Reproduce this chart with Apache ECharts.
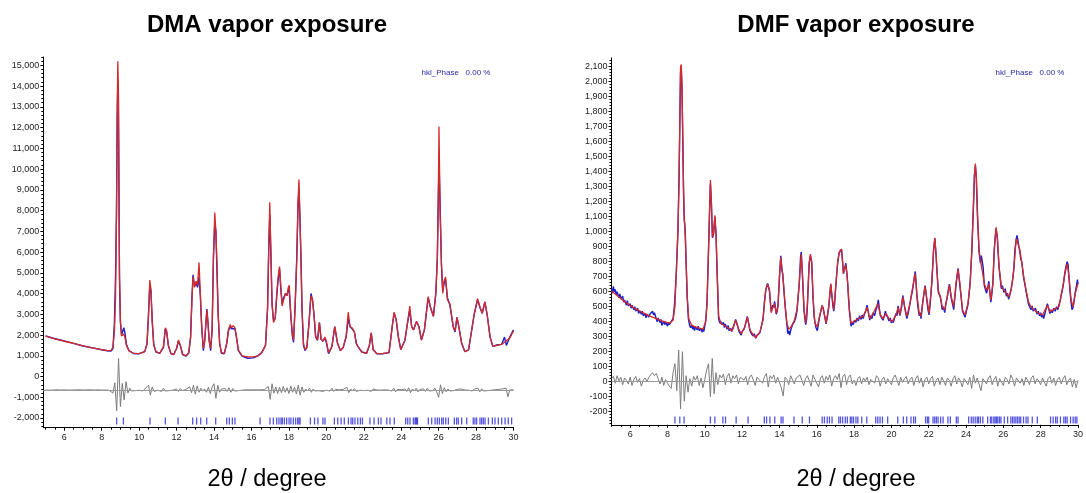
<!DOCTYPE html>
<html>
<head>
<meta charset="utf-8">
<title>DMA / DMF vapor exposure</title>
<script src="https://cdn.jsdelivr.net/npm/echarts@6/dist/echarts.min.js"></script>
<style>
html, body { margin: 0; padding: 0; background: #fff; }
#chart { width: 1086px; height: 493px; }
</style>
</head>
<body>
<div id="chart"></div>
<script>
/* ============================= data ============================= */

// x tick labels (2theta, degree), same for both panels
var xTicks = [6, 8, 10, 12, 14, 16, 18, 20, 22, 24, 26, 28, 30];

// ---- DMA vapor exposure ----
var dmaYTicks = [-2000, -1000, 0, 1000, 2000, 3000, 4000, 5000, 6000, 7000, 8000, 9000, 10000, 11000, 12000, 13000, 14000, 15000];

var dmaX = [5.0,5.5,6.0,6.5,7.0,7.5,8.0,8.3,8.5,8.6,
	8.68,8.74,8.79,8.83,8.86,8.89,8.92,8.95,9.0,9.06,
	9.12,9.18,9.24,9.32,9.45,9.7,10.0,10.3,10.42,10.5,
	10.57,10.63,10.7,10.78,10.9,11.1,11.3,11.4,11.47,11.56,
	11.7,11.85,12.0,12.1,12.2,12.32,12.5,12.65,12.75,12.82,
	12.88,12.96,13.04,13.12,13.2,13.27,13.34,13.43,13.5,13.56,
	13.62,13.68,13.74,13.82,13.9,13.97,14.04,14.1,14.16,14.22,
	14.3,14.4,14.55,14.68,14.77,14.86,14.94,15.02,15.12,15.2,
	15.3,15.5,15.8,16.1,16.35,16.55,16.75,16.86,16.93,16.98,
	17.04,17.1,17.18,17.27,17.36,17.44,17.5,17.57,17.64,17.72,
	17.82,17.9,17.97,18.02,18.1,18.18,18.25,18.34,18.42,18.49,
	18.54,18.6,18.65,18.7,18.78,18.86,18.96,19.08,19.18,19.26,
	19.34,19.43,19.53,19.63,19.72,19.82,19.92,20.0,20.12,20.3,
	20.45,20.6,20.75,20.9,21.06,21.17,21.27,21.38,21.5,21.6,
	21.72,21.9,22.15,22.3,22.4,22.5,22.7,23.0,23.35,23.52,
	23.62,23.73,23.85,23.98,24.2,24.34,24.46,24.56,24.66,24.82,
	24.95,25.08,25.24,25.44,25.56,25.72,25.85,25.93,25.98,26.02,
	26.08,26.15,26.22,26.29,26.37,26.47,26.6,26.78,26.88,26.98,
	27.08,27.23,27.4,27.6,27.9,28.08,28.22,28.33,28.47,28.59,
	28.75,28.9,29.1,29.37,29.52,29.62,29.8,30.0];

var dmaCalc = [1950,1820,1700,1600,1480,1380,1300,1250,1260,1400,
	2200,3800,7800,13000,15200,14000,9300,5000,2700,1950,
	1900,2050,1900,1500,1250,1120,1100,1200,1600,2900,
	4650,4200,2600,1500,1200,1120,1450,2350,2200,1500,
	1100,1060,1350,1760,1500,1080,1000,1150,1900,3700,
	4800,4300,4600,4400,5500,4000,2500,1350,1700,2500,
	3200,2500,1700,1350,2200,5700,7900,7000,5400,3000,
	1600,1150,1120,1600,2250,2500,2350,2450,2350,1900,
	1280,1000,950,950,1000,1150,1500,3200,6500,8400,
	6000,3500,2600,2800,4100,4900,5300,4300,3400,3700,
	4000,3900,4300,4400,3000,2100,1750,3500,5600,8500,
	9500,7200,5600,3300,1600,1300,1400,2600,3900,3700,
	3000,1950,1750,2600,1800,1700,1900,1700,1150,1450,
	2400,1600,1250,1400,1950,3100,2400,2350,2150,1600,
	1400,1180,1120,1500,2100,1300,1100,1100,1150,2400,
	3100,2750,1900,1300,1750,2600,3400,2400,2250,2650,
	2400,1760,2250,3850,3350,2900,4000,5600,8500,12050,
	7900,5450,4000,4600,4800,3700,3500,2400,2200,2850,
	2400,1600,1200,1280,3000,3750,3300,3050,3600,3000,
	1900,1450,1500,1550,1650,1600,1850,2200];

var dmaObs = [1960,1820,1710,1600,1470,1380,1290,1240,1230,1350,
	2600,4900,7900,12500,14100,13600,9300,4700,2600,2000,
	2000,2350,2100,1550,1250,1110,1100,1200,1550,3000,
	4400,4100,2700,1550,1180,1120,1400,2300,2150,1500,
	1100,1060,1350,1700,1500,1060,980,1130,1900,3800,
	4900,4350,4500,4300,4800,3900,2400,1250,1700,2500,
	3250,2600,1800,1250,2300,5800,7400,7000,5000,3050,
	1600,1120,1100,1600,2200,2400,2300,2350,2300,1900,
	1250,980,880,900,1000,1150,1500,3300,6400,7800,
	5800,3500,2700,2800,4000,4800,5200,4200,3500,3800,
	4000,3900,4200,4100,3000,2000,1650,3600,5700,8300,
	9000,7400,5500,3300,1500,1250,1400,2650,4000,3700,
	3000,1900,1750,2600,1800,1700,1850,1650,1100,1450,
	2400,1600,1250,1400,1900,2800,2400,2300,2150,1600,
	1400,1180,1120,1500,2100,1300,1100,1100,1150,2400,
	3050,2750,1900,1300,1750,2600,3200,2400,2250,2650,
	2400,1760,2250,3800,3350,2900,4000,5700,8500,10300,
	8200,5400,4100,4500,4700,3800,3450,2400,2150,2850,
	2400,1600,1200,1280,3000,3700,3300,3050,3600,3000,
	1900,1450,1520,1550,1900,1500,1900,2250];

// difference curve, sampled every 0.1 degree from 5.0 (offset baseline -650)
var dmaDiffStart = 5.0, dmaDiffStep = 0.1, dmaDiffZero = -650;
var dmaDiff = [
	-650,-640,-660,-645,-655,-650,-640,-655,-650,-660,
	-645,-650,-655,-640,-650,-660,-645,-650,-640,-655,
	-650,-660,-645,-650,-640,-655,-650,-660,-645,-650,
	-655,-640,-650,-660,-670,-720,-800,-300,-1650,870,
	-1450,-330,-1130,-250,-800,-560,-700,-620,-680,-640,
	-660,-620,-700,-600,-680,-420,-900,-500,-720,-640,
	-660,-600,-720,-560,-700,-640,-680,-620,-660,-640,
	-600,-720,-580,-680,-640,-620,-680,-500,-780,-420,
	-850,-450,-760,-560,-700,-600,-760,-520,-820,-500,
	-350,-1050,-420,-760,-600,-660,-580,-720,-540,-760,
	-580,-700,-620,-680,-640,-660,-650,-640,-655,-645,
	-650,-640,-660,-645,-655,-640,-660,-630,-700,-480,
	-1100,-350,-800,-500,-820,-520,-780,-480,-760,-540,
	-820,-460,-760,-520,-840,-420,-900,-500,-760,-600,
	-700,-560,-760,-600,-700,-620,-680,-600,-720,-640,
	-660,-600,-700,-560,-720,-620,-680,-640,-660,-620,
	-700,-520,-780,-600,-700,-580,-720,-640,-660,-620,
	-680,-640,-660,-620,-720,-600,-680,-650,-640,-660,
	-650,-640,-660,-650,-620,-700,-560,-740,-620,-680,
	-640,-660,-600,-720,-540,-780,-600,-700,-560,-740,
	-620,-680,-600,-720,-560,-700,-620,-680,-560,-740,
	-1000,-400,-820,-540,-740,-600,-700,-620,-680,-640,
	-620,-700,-600,-680,-650,-640,-660,-620,-700,-600,
	-680,-560,-740,-600,-700,-620,-680,-640,-660,-650,
	-640,-660,-620,-700,-600,-680,-560,-980,-650,-600,
	-640];

// hkl reflection positions
var dmaHkl = [8.80,9.16,10.58,11.40,12.08,12.86,13.07,13.29,13.61,14.09,14.68,14.82,14.98,15.12,16.46,16.99,17.17,17.35,17.47,17.58,17.65,17.76,17.88,18.01,18.11,18.24,18.36,18.47,18.54,18.60,
	19.15,19.37,19.55,19.82,19.93,20.43,20.61,20.79,20.96,21.18,21.32,21.41,21.53,21.68,21.82,21.93,22.33,22.55,22.78,22.92,23.23,23.40,23.63,24.24,24.35,24.47,24.65,24.74,24.78,24.83,24.87,
	25.45,25.63,25.81,25.93,26.04,26.16,26.25,26.38,26.52,26.84,26.96,27.05,27.23,27.5,27.85,27.94,28.03,28.21,28.3,28.39,28.48,28.66,28.87,29.01,29.19,29.37,29.55,29.72,29.9];

// ---- DMF vapor exposure ----
var dmfYTicks = [-200, -100, 0, 100, 200, 300, 400, 500, 600, 700, 800, 900, 1000, 1100, 1200, 1300, 1400, 1500, 1600, 1700, 1800, 1900, 2000, 2100];

var dmfCalcX = [5.0,5.4,5.8,6.2,6.6,7.0,7.4,7.8,8.1,8.3,8.4,8.48,8.56,8.62,8.67,8.7,8.74,8.78,8.82,8.86,8.9,8.95,9.0,9.06,9.14,9.3,9.6,9.9,
	10.05,10.12,10.19,10.26,10.3,10.35,10.41,10.47,10.54,10.6,10.67,10.74,10.85,11.05,11.25,11.45,11.65,11.8,11.95,12.15,12.28,12.42,12.6,12.73,12.95,
	13.12,13.26,13.37,13.47,13.56,13.65,13.74,13.83,13.92,14.0,14.07,14.14,14.22,14.3,14.4,14.5,14.62,14.8,14.94,15.06,15.17,15.24,15.32,15.41,15.5,15.59,15.66,15.73,15.8,15.9,
	16.03,16.15,16.29,16.4,16.5,16.64,16.75,16.82,16.91,17.0,17.12,17.22,17.33,17.43,17.56,17.66,17.75,17.84,17.96,18.23,18.49,18.7,18.84,19.02,19.27,19.41,19.55,19.72,19.87,
	20.04,20.25,20.36,20.46,20.61,20.71,20.83,20.99,21.17,21.28,21.36,21.49,21.59,21.7,21.8,21.91,22.02,22.16,22.26,22.33,22.4,22.51,22.63,22.72,22.86,22.99,23.11,23.21,23.34,23.46,23.57,23.67,23.81,23.95,
	24.1,24.22,24.31,24.4,24.45,24.5,24.55,24.62,24.7,24.77,24.87,24.98,25.1,25.22,25.33,25.44,25.51,25.61,25.68,25.77,25.89,26.03,26.16,26.28,26.42,26.56,26.69,26.77,26.88,26.99,
	27.09,27.22,27.34,27.48,27.66,27.87,28.1,28.36,28.5,28.71,28.98,29.15,29.3,29.42,29.52,29.63,29.74,29.86,30.0];

var dmfCalc = [605,565,525,492,465,440,420,400,390,410,500,760,1000,1340,1820,2100,2115,1960,1620,1300,1080,980,800,560,420,375,360,350,
	400,520,840,1150,1345,1210,965,990,1110,990,700,440,390,375,360,340,410,355,320,365,430,345,310,295,330,
	410,610,650,610,460,500,520,455,500,700,830,745,655,520,390,350,365,410,480,655,850,700,480,390,520,790,850,790,570,390,
	365,435,510,455,390,500,655,570,480,610,800,870,885,720,780,655,480,390,400,420,435,495,420,455,520,445,420,455,420,
	400,445,495,445,565,500,435,520,650,720,590,455,435,545,635,545,455,655,875,960,835,610,565,500,480,565,645,565,500,655,750,655,480,445,
	520,655,875,1190,1370,1455,1370,1100,880,810,820,655,610,650,545,655,880,1030,965,770,635,610,590,565,610,745,955,960,880,790,
	700,610,535,500,478,456,445,510,467,482,500,610,720,785,700,545,500,590,655];

var dmfObsX = [5.0,5.05,5.1,5.15,5.2,5.25,5.3,5.4,5.45,5.5,5.6,5.65,5.7,5.8,5.85,5.9,6.0,6.05,6.1,6.2,6.25,6.3,6.4,6.45,6.5,6.6,6.65,6.7,6.8,6.85,6.9,
	7.0,7.05,7.1,7.2,7.25,7.3,7.4,7.45,7.5,7.6,7.65,7.7,7.8,7.85,7.9,8.0,8.05,8.1,8.2,8.3,8.38,8.48,8.56,8.62,8.67,8.7,8.74,8.78,8.82,8.86,8.9,8.93,8.96,
	9.0,9.06,9.12,9.18,9.24,9.3,9.35,9.4,9.45,9.5,9.6,9.65,9.7,9.8,9.85,9.9,9.95,10.05,10.12,10.19,10.26,10.3,10.35,10.41,10.47,10.54,10.6,10.67,10.74,10.8,10.85,10.9,
	11.0,11.05,11.1,11.2,11.25,11.3,11.35,11.4,11.45,11.55,11.65,11.72,11.8,11.85,11.9,11.95,12.0,12.1,12.15,12.28,12.35,12.42,12.5,12.55,12.6,12.65,12.73,12.8,12.85,12.95,
	13.0,13.12,13.2,13.26,13.32,13.37,13.47,13.52,13.56,13.6,13.65,13.7,13.74,13.78,13.83,13.88,13.92,14.0,14.07,14.14,14.18,14.22,14.3,14.4,14.45,14.5,14.55,14.62,14.7,14.8,14.88,14.94,
	15.06,15.13,15.17,15.24,15.32,15.38,15.41,15.46,15.5,15.59,15.66,15.73,15.8,15.86,15.9,15.96,16.03,16.08,16.15,16.22,16.29,16.35,16.4,16.45,16.5,16.58,16.64,16.7,16.75,16.82,16.87,16.91,16.96,
	17.0,17.06,17.12,17.2,17.27,17.33,17.38,17.43,17.5,17.56,17.62,17.66,17.7,17.75,17.8,17.84,17.9,17.96,18.02,18.1,18.16,18.23,18.3,18.38,18.44,18.49,18.55,18.62,18.7,18.76,18.84,18.9,18.96,
	19.02,19.1,19.18,19.23,19.3,19.35,19.41,19.48,19.55,19.62,19.68,19.72,19.8,19.87,19.94,20.0,20.04,20.1,20.18,20.25,20.3,20.36,20.42,20.46,20.55,20.61,20.66,20.71,20.78,20.83,20.9,20.99,
	21.05,21.12,21.17,21.22,21.28,21.33,21.36,21.42,21.49,21.54,21.59,21.65,21.7,21.75,21.8,21.85,21.91,21.96,22.02,22.08,22.16,22.22,22.26,22.33,22.4,22.45,22.51,22.57,22.63,22.68,22.72,22.78,22.86,22.92,22.99,
	23.05,23.11,23.16,23.21,23.27,23.34,23.4,23.46,23.52,23.57,23.62,23.67,23.74,23.81,23.88,23.95,24.02,24.1,24.16,24.22,24.31,24.4,24.45,24.5,24.55,24.62,24.7,24.74,24.77,24.82,24.87,24.92,24.98,
	25.04,25.1,25.16,25.22,25.28,25.33,25.38,25.44,25.51,25.56,25.61,25.68,25.72,25.77,25.83,25.89,25.95,26.03,26.1,26.16,26.22,26.28,26.35,26.42,26.5,26.56,26.62,26.69,26.73,26.77,26.82,26.88,26.93,26.99,
	27.04,27.09,27.15,27.22,27.28,27.34,27.4,27.48,27.54,27.6,27.66,27.72,27.8,27.87,27.94,28.0,28.05,28.1,28.16,28.22,28.3,28.36,28.42,28.5,28.56,28.62,28.71,28.78,28.85,28.92,28.98,
	29.05,29.1,29.15,29.22,29.3,29.36,29.42,29.47,29.52,29.57,29.63,29.68,29.74,29.8,29.86,29.92,29.97,30.0];

var dmfObs = [620,590,635,600,615,580,600,560,585,550,570,530,545,510,540,505,520,490,510,480,500,470,490,455,475,450,470,440,455,425,450,
	430,450,455,470,445,460,420,400,425,395,415,375,405,380,400,370,395,380,400,420,520,740,1010,1360,1800,2060,2090,1940,1620,1260,1080,1050,970,
	780,560,420,380,360,380,350,370,340,365,345,370,340,355,330,350,335,410,530,830,1160,1320,1200,960,985,1100,985,690,420,390,405,380,
	395,360,385,350,375,340,330,355,335,370,415,390,350,330,340,310,335,350,370,435,390,340,320,330,305,320,290,310,300,325,
	350,420,540,600,640,655,600,520,470,480,510,495,535,500,450,470,505,690,840,740,720,640,510,380,320,340,310,350,380,400,430,470,
	650,830,865,690,470,400,380,420,510,780,840,800,560,430,400,360,340,380,430,470,505,490,450,420,385,440,495,580,650,560,500,470,520,
	600,700,790,860,850,880,810,720,760,790,720,650,560,470,410,370,395,380,410,395,425,405,440,415,445,420,450,470,510,465,410,440,420,
	460,440,480,500,545,490,440,430,410,440,470,445,430,405,425,390,410,395,430,455,440,505,460,440,500,575,540,495,450,420,455,515,
	560,600,640,690,735,650,580,500,440,460,420,500,550,590,640,600,530,480,445,520,650,780,880,955,830,720,600,580,560,520,480,500,460,520,560,
	610,650,600,555,520,480,560,640,700,755,700,640,560,470,460,430,470,510,580,660,870,1180,1380,1440,1360,1080,860,820,790,840,850,760,640,
	630,590,620,670,590,530,580,660,870,960,1020,950,860,760,690,620,640,595,620,570,590,550,580,620,680,750,880,950,975,950,910,870,820,800,
	740,690,650,600,560,520,510,480,505,470,465,490,450,470,440,460,430,450,420,450,490,520,490,455,480,460,490,470,500,480,515,
	540,580,600,650,730,770,800,780,690,600,530,480,495,550,600,640,680,650];

// difference curve, sampled every 0.1 degree from 5.0
var dmfDiffStart = 5.0, dmfDiffStep = 0.1, dmfDiffZero = 0;
var dmfDiff = [
	20,35,-10,40,5,30,-20,25,10,-15,
	30,-25,15,35,-5,20,-30,10,25,0,
	30,45,60,40,55,20,-15,30,-25,15,
	-10,-30,-45,60,120,-60,210,-180,200,-130,
	40,-70,20,-30,35,10,40,-25,25,-40,
	15,80,120,-100,155,-80,60,-20,45,25,
	50,-20,35,55,-10,40,20,45,-15,30,
	40,10,35,-20,30,45,10,-25,30,15,
	25,-10,35,55,-35,40,20,45,-10,30,
	25,-40,-95,30,15,-20,40,35,-15,25,
	30,45,10,-25,20,40,30,-30,45,15,
	20,-35,25,40,-10,35,10,45,-30,20,
	40,15,55,-40,35,50,-20,30,45,-15,
	10,-25,20,35,-15,25,5,30,-20,15,
	20,-10,40,25,-30,15,30,-15,20,10,
	-20,25,45,10,-25,30,-5,20,35,-15,
	15,30,-25,20,40,-10,25,-35,15,30,
	-15,20,35,-30,10,25,-20,30,5,-25,
	25,10,-30,20,40,-15,25,5,-35,20,
	15,-20,30,-45,45,-10,25,35,-60,20,
	30,-15,25,40,-20,15,35,-30,20,10,
	-25,30,15,-15,45,20,-30,25,35,-10,
	20,-25,30,10,-20,25,40,-15,20,5,
	-20,25,15,-30,20,35,-10,25,-25,15,
	30,-15,20,40,-20,10,25,-35,15,-40,
	10];

var dmfHkl = [8.40,8.66,8.89,10.30,10.54,10.97,11.11,11.68,12.32,13.19,13.31,13.49,13.75,14.09,14.19,14.78,15.22,15.61,16.29,16.41,16.56,16.68,16.82,
	17.18,17.27,17.39,17.53,17.64,17.8,17.88,17.97,18.1,18.2,18.41,18.68,19.16,19.27,19.39,19.52,19.8,20.34,20.64,20.82,21.05,21.19,21.29,
	21.83,21.93,22.0,22.23,22.32,22.41,22.5,22.64,22.77,23.03,23.16,23.48,23.57,24.14,24.28,24.38,24.49,24.6,24.67,24.77,24.9,
	25.16,25.31,25.38,25.49,25.56,25.63,25.7,25.79,25.87,26.05,26.23,26.4,26.49,26.58,26.67,26.76,26.85,26.93,27.08,27.22,27.32,27.55,27.82,
	28.53,28.67,28.8,28.89,29.06,29.24,29.33,29.42,29.6,29.74,29.85,29.94];

/* ============================= build series ============================= */

function zip(xs, ys) {
	var out = [];
	var n = Math.min(xs.length, ys.length);
	for (var i = 0; i < n; i++) out.push([xs[i], ys[i]]);
	return out;
}
function sampled(start, step, ys) {
	var out = [];
	for (var i = 0; i < ys.length; i++) out.push([Math.round((start + i * step) * 100) / 100, ys[i]]);
	return out;
}
function hklMarks(list, level) {
	return list.map(function (t) { return [t, level]; });
}
function range(a, b, s) {
	var out = [];
	for (var v = a; v <= b + 1e-9; v += s) out.push(Math.round(v * 1000) / 1000);
	return out;
}

var FONT = '"Liberation Sans", Arial, Helvetica, sans-serif';
var OBS_COLOR = '#1c1cc8';
var CALC_COLOR = '#d42a2a';
var DIFF_COLOR = '#7c7c7c';
var HKL_COLOR = '#2b2bd8';

// panel geometry (pixels)
var P = [
	{ left: 43.3, top: 57, width: 470.2, height: 370.7, xmin: 4.88, xmax: 30, ymin: -2467, ymax: 15400,
		yTicks: dmaYTicks, yMinor: range(-2400, 15400, 200), hklY: -2145 },
	{ left: 611.5, top: 58, width: 472.8, height: 366.9, xmin: 5, xmax: 30, ymin: -288, ymax: 2158,
		yTicks: dmfYTicks, yMinor: range(-280, 2150, 20), hklY: -255 }
];

var grids = [], xAxes = [], yAxes = [];
P.forEach(function (p, k) {
	grids.push({ left: p.left, top: p.top, width: p.width, height: p.height });
	// main x axis
	xAxes.push({
		type: 'value', gridIndex: k, min: p.xmin, max: p.xmax, position: 'bottom',
		axisLine: { onZero: false, lineStyle: { color: '#000', width: 1 } },
		axisTick: { show: true, inside: false, length: 3, customValues: xTicks, lineStyle: { color: '#000' } },
		axisLabel: { customValues: xTicks, margin: 5, color: '#222', fontSize: 9, fontFamily: FONT },
		splitLine: { show: false }
	});
	// minor x ticks
	xAxes.push({
		type: 'value', gridIndex: k, min: p.xmin, max: p.xmax, position: 'bottom',
		axisLine: { show: false, onZero: false },
		axisTick: { show: true, inside: false, length: 2, customValues: range(5, 30, 0.5), lineStyle: { color: '#000' } },
		axisLabel: { show: false },
		splitLine: { show: false }
	});
	yAxes.push({
		type: 'value', gridIndex: k, min: p.ymin, max: p.ymax, position: 'left',
		axisLine: { show: true, onZero: false, lineStyle: { color: '#000', width: 1 } },
		axisTick: { show: true, inside: false, length: 3, customValues: p.yTicks, lineStyle: { color: '#000' } },
		axisLabel: {
			customValues: p.yTicks, margin: 4, color: '#222', fontSize: 9, fontFamily: FONT,
			formatter: function (v) { return Number(v).toLocaleString('en-US'); }
		},
		splitLine: { show: false }
	});
	yAxes.push({
		type: 'value', gridIndex: k, min: p.ymin, max: p.ymax, position: 'left',
		axisLine: { show: false, onZero: false },
		axisTick: { show: true, inside: false, length: 2, customValues: p.yMinor, lineStyle: { color: '#000' } },
		axisLabel: { show: false },
		splitLine: { show: false }
	});
});

function lineSeries(k, data, color, width, z) {
	return {
		type: 'line', xAxisIndex: k * 2, yAxisIndex: k * 2, data: data,
		showSymbol: false, symbol: 'none', silent: true, animation: false, z: z,
		lineStyle: { color: color, width: width }
	};
}
function diffSeries(k, data, zero) {
	var s = lineSeries(k, data, DIFF_COLOR, 1, 3);
	s.markLine = {
		silent: true, symbol: ['none', 'none'], label: { show: false }, animation: false,
		lineStyle: { color: '#9a9a9a', width: 1, type: 'solid' },
		data: [{ yAxis: zero }]
	};
	return s;
}
function hklSeries(k, list, level) {
	return {
		type: 'scatter', xAxisIndex: k * 2, yAxisIndex: k * 2, data: hklMarks(list, level),
		symbol: 'rect', symbolSize: [1.3, 7], silent: true, animation: false, z: 4,
		itemStyle: { color: HKL_COLOR }
	};
}

var series = [
	lineSeries(0, zip(dmaX, dmaObs), OBS_COLOR, 1.4, 5),
	lineSeries(0, zip(dmaX, dmaCalc), CALC_COLOR, 1.3, 6),
	diffSeries(0, sampled(dmaDiffStart, dmaDiffStep, dmaDiff), dmaDiffZero),
	hklSeries(0, dmaHkl, P[0].hklY),
	lineSeries(1, zip(dmfObsX, dmfObs), OBS_COLOR, 1.4, 5),
	lineSeries(1, zip(dmfCalcX, dmfCalc), CALC_COLOR, 1.3, 6),
	diffSeries(1, sampled(dmfDiffStart, dmfDiffStep, dmfDiff), dmfDiffZero),
	hklSeries(1, dmfHkl, P[1].hklY)
];

function txt(x, y, text, font, fill) {
	return {
		type: 'text', x: x, y: y, silent: true,
		style: { text: text, font: font, fill: fill, align: 'center', verticalAlign: 'middle', textAlign: 'center', textVerticalAlign: 'middle' }
	};
}

var option = {
	backgroundColor: '#fff',
	animation: false,
	grid: grids,
	xAxis: xAxes,
	yAxis: yAxes,
	series: series,
	graphic: [
		txt(267, 25, 'DMA vapor exposure', 'bold 24px ' + FONT, '#000'),
		txt(856, 25, 'DMF vapor exposure', 'bold 24px ' + FONT, '#000'),
		txt(267, 480, '2θ / degree', '23.5px ' + FONT, '#000'),
		txt(856, 480, '2θ / degree', '23.5px ' + FONT, '#000'),
		txt(456, 73, 'hkl_Phase   0.00 %', '8px ' + FONT, '#2a2aa6'),
		txt(1030, 73, 'hkl_Phase   0.00 %', '8px ' + FONT, '#2a2aa6')
	]
};

var chart = echarts.init(document.getElementById('chart'));
chart.setOption(option);
</script>
</body>
</html>
